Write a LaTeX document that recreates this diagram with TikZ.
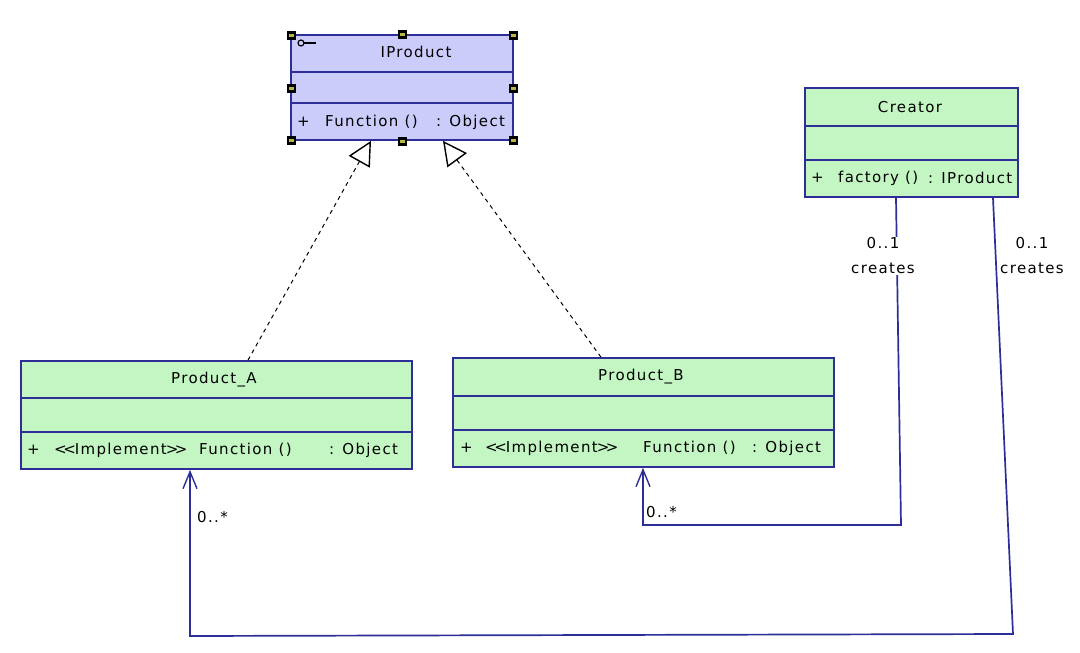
\documentclass[tikz,border=0pt]{standalone}
\usepackage{fontspec}
\setmainfont{DejaVu Sans}[LetterSpace=9]
\usetikzlibrary{arrows.meta}
\definecolor{lav}{HTML}{CCCCFB}
\definecolor{grn}{HTML}{C4F6C4}
\definecolor{navy}{HTML}{2E2E98}
\definecolor{hand}{HTML}{B8B840}
\newcommand{\impl}{<\kern-3.5pt<\kern-1pt Implement\kern-1pt>\kern-3.5pt>}
\tikzset{
  cls/.style={draw=navy, line width=1.7pt, inner sep=0pt, rectangle},
  ifc/.style={cls, fill=lav},
  grc/.style={cls, fill=grn},
  dv/.style={draw=navy, line width=1.7pt},
  txt/.style={inner sep=0pt, font=\fontsize{15}{18}\selectfont, text=black},
  lbl/.style={txt, align=center, fill=white, inner sep=1pt},
  real/.style={line width=1pt, dash pattern=on 4pt off 4pt, -{Triangle[open, length=24pt, width=24pt, line width=1.4pt, fill=white]}},
  assoc/.style={draw=navy, line width=1.7pt, -{Straight Barb[length=17pt, width=14pt, line width=1.4pt]}},
  handle/.style={fill=black, minimum size=9pt, inner sep=0pt, rectangle}
}
\begin{document}
\begin{tikzpicture}[x=1pt,y=-1pt]
\useasboundingbox[fill=white] (0,0) rectangle (1080,653);
% IProduct
\node[ifc, minimum width=222pt, minimum height=105pt] (ip) at (402,87.5) {};
\draw[dv] (ip.west |- 0,72) -- (ip.east |- 0,72);
\draw[dv] (ip.west |- 0,103) -- (ip.east |- 0,103);
\node[txt] (iptitle) at (416,52) {IProduct};
\draw[line width=1.2pt] (301,43) circle (3pt);
\draw[line width=1.2pt] (304,43) -- (316,43);
\node[txt, anchor=west] (ipplus) at (297,122) {+};
\node[txt, anchor=west] (ipfn) at (325,122) {Function ()};
\node[txt, anchor=west] (ipobj) at (436,122) {: Object};
% handles
\foreach \hx/\hy [count=\i] in {291/35,402/34,513/35,291/88,513/88,291/140,402/141,513/140}{
  \node[handle] (h\i) at (\hx,\hy) {};
  \fill[hand] (\hx-2.5,\hy-1.5) rectangle (\hx+2.5,\hy+1.5);
}
% Creator
\node[grc, minimum width=213pt, minimum height=109pt] (cr) at (911.5,142.5) {};
\draw[dv] (cr.west |- 0,126) -- (cr.east |- 0,126);
\draw[dv] (cr.west |- 0,160) -- (cr.east |- 0,160);
\node[txt] (crtitle) at (910,107) {Creator};
\node[txt, anchor=west] (crplus) at (811,178) {+};
\node[txt, anchor=west] (crfn) at (838,178) {factory ()};
\node[txt, anchor=west] (crobj) at (928,178) {: IProduct};
% Product_A
\node[grc, minimum width=391pt, minimum height=108pt] (pa) at (216.5,415) {};
\draw[dv] (pa.west |- 0,398) -- (pa.east |- 0,398);
\draw[dv] (pa.west |- 0,432) -- (pa.east |- 0,432);
\node[txt] (patitle) at (214,380) {Product\_A};
\node[txt, anchor=west] (paplus) at (27,450) {+};
\node[txt, anchor=west] (paimp) at (54,450) {\impl};
\node[txt, anchor=west] (pafn) at (199,450) {Function ()};
\node[txt, anchor=west] (paobj) at (329,450) {: Object};
% Product_B
\node[grc, minimum width=381pt, minimum height=109pt] (pb) at (643.5,412.5) {};
\draw[dv] (pb.west |- 0,396) -- (pb.east |- 0,396);
\draw[dv] (pb.west |- 0,430) -- (pb.east |- 0,430);
\node[txt] (pbtitle) at (641,377) {Product\_B};
\node[txt, anchor=west] (pbplus) at (460,448) {+};
\node[txt, anchor=west] (pbimp) at (485,448) {\impl};
\node[txt, anchor=west] (pbfn) at (643,448) {Function ()};
\node[txt, anchor=west] (pbobj) at (752,448) {: Object};
% realizations
\draw[real] (pa.north -| 248,0) -- (ip.south -| 371,0);
\draw[real] (pb.north -| 601,0) -- (ip.south -| 443,0);
% associations
\draw[assoc] (cr.south -| 896,0) -- (901,525) -- (643,525) -- (pb.south -| 643,0);
\draw[assoc] (cr.south -| 993,0) -- (1013,634) -- (190,636) -- (pa.south -| 190,0);
% labels
\node[lbl] (l1) at (883,256) {0..1\\[7pt]creates};
\node[txt, align=center] (l2) at (1032,256) {0..1\\[7pt]creates};
\node[txt, anchor=west] (m1) at (197,517) {0..*};
\node[txt, anchor=west] (m2) at (646,512) {0..*};
\end{tikzpicture}
\end{document}
